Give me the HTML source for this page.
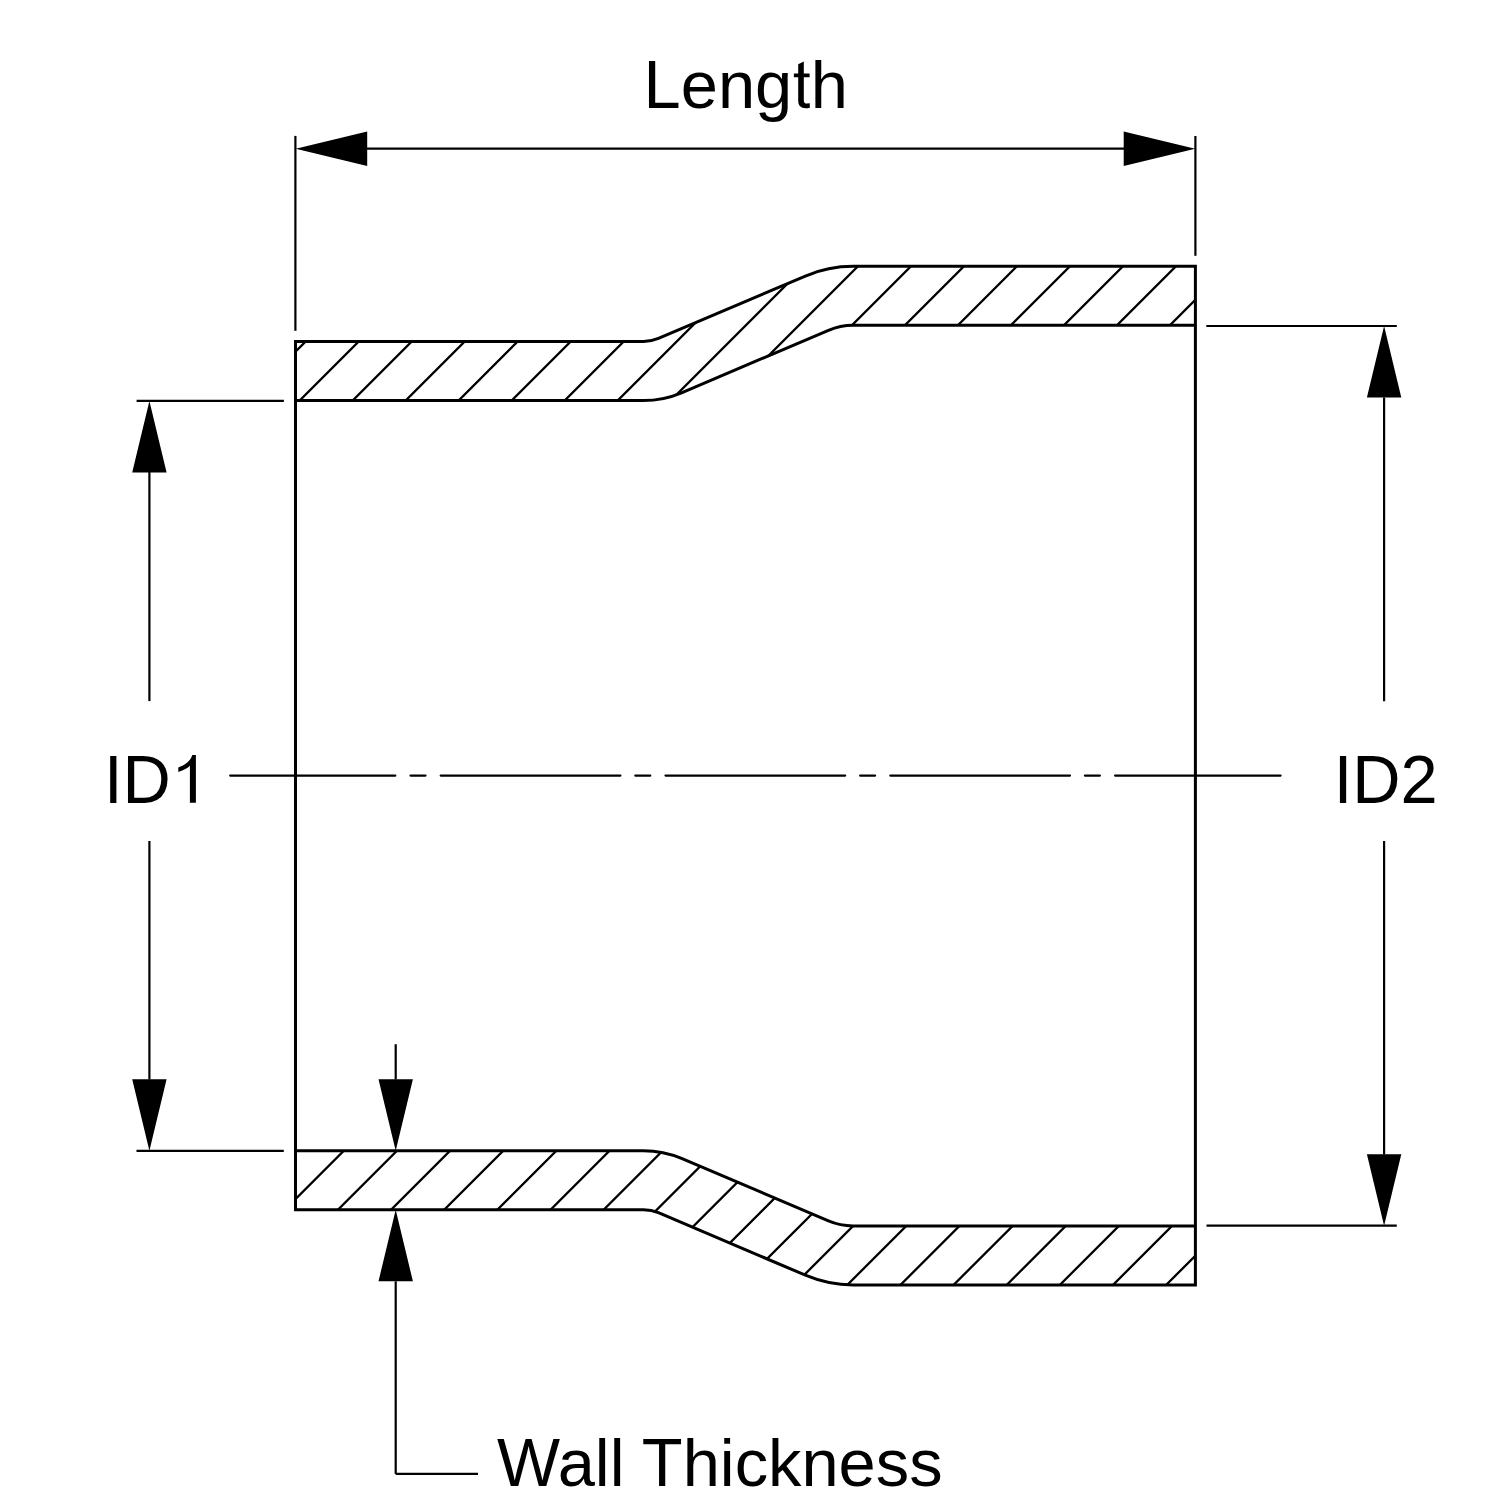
<!DOCTYPE html>
<html><head><meta charset="utf-8"><style>
html,body{margin:0;padding:0;background:#fff;width:1510px;height:1510px;overflow:hidden}
svg{display:block}
text{font-family:"Liberation Sans",sans-serif;fill:#000}
</style></head><body>
<svg width="1510" height="1510" viewBox="0 0 1510 1510">
<rect width="1510" height="1510" fill="#fff"/>
<defs>
<clipPath id="ct"><path d="M295.50,341.50 L643.56,341.50 A38.0,38.0 0 0 0 658.42,338.47 L805.37,276.02 A122.0,122.0 0 0 1 853.09,266.30 L1195.40,266.30 L1195.40,325.30 L853.09,325.30 A63.0,63.0 0 0 0 828.45,330.32 L681.50,392.77 A97.0,97.0 0 0 1 643.56,400.50 L295.50,400.50 Z"/></clipPath>
<clipPath id="cb"><path d="M295.50,1209.70 L643.56,1209.70 A38.0,38.0 0 0 1 658.42,1212.73 L805.37,1275.18 A122.0,122.0 0 0 0 853.09,1284.90 L1195.40,1284.90 L1195.40,1225.90 L853.09,1225.90 A63.0,63.0 0 0 1 828.45,1220.88 L681.50,1158.43 A97.0,97.0 0 0 0 643.56,1150.70 L295.50,1150.70 Z"/></clipPath>
</defs>
<g stroke="#000" stroke-width="2.3" fill="none">
<path clip-path="url(#ct)" d="M68.20,420.00 L238.20,250.00 M121.20,420.00 L291.20,250.00 M174.20,420.00 L344.20,250.00 M227.20,420.00 L397.20,250.00 M280.20,420.00 L450.20,250.00 M333.20,420.00 L503.20,250.00 M386.20,420.00 L556.20,250.00 M439.20,420.00 L609.20,250.00 M492.20,420.00 L662.20,250.00 M545.20,420.00 L715.20,250.00 M598.20,420.00 L768.20,250.00 M651.20,420.00 L821.20,250.00 M704.20,420.00 L874.20,250.00 M757.20,420.00 L927.20,250.00 M810.20,420.00 L980.20,250.00 M863.20,420.00 L1033.20,250.00 M916.20,420.00 L1086.20,250.00 M969.20,420.00 L1139.20,250.00 M1022.20,420.00 L1192.20,250.00 M1075.20,420.00 L1245.20,250.00 M1128.20,420.00 L1298.20,250.00 M1181.20,420.00 L1351.20,250.00 M1234.20,420.00 L1404.20,250.00 M1287.20,420.00 L1457.20,250.00"/>
<path clip-path="url(#cb)" d="M35.14,1300.00 L205.14,1130.00 M88.28,1300.00 L258.28,1130.00 M141.42,1300.00 L311.42,1130.00 M194.56,1300.00 L364.56,1130.00 M247.70,1300.00 L417.70,1130.00 M300.84,1300.00 L470.84,1130.00 M353.98,1300.00 L523.98,1130.00 M407.12,1300.00 L577.12,1130.00 M460.26,1300.00 L630.26,1130.00 M513.40,1300.00 L683.40,1130.00 M566.54,1300.00 L736.54,1130.00 M619.68,1300.00 L789.68,1130.00 M672.82,1300.00 L842.82,1130.00 M725.96,1300.00 L895.96,1130.00 M779.10,1300.00 L949.10,1130.00 M832.24,1300.00 L1002.24,1130.00 M885.38,1300.00 L1055.38,1130.00 M938.52,1300.00 L1108.52,1130.00 M991.66,1300.00 L1161.66,1130.00 M1044.80,1300.00 L1214.80,1130.00 M1097.94,1300.00 L1267.94,1130.00 M1151.08,1300.00 L1321.08,1130.00 M1204.22,1300.00 L1374.22,1130.00 M1257.36,1300.00 L1427.36,1130.00"/>
</g>
<g stroke="#000" stroke-width="3.0" fill="none" stroke-linejoin="miter">
<path d="M295.50,341.50 L643.56,341.50 A38.0,38.0 0 0 0 658.42,338.47 L805.37,276.02 A122.0,122.0 0 0 1 853.09,266.30 L1195.40,266.30 L1195.40,1284.90 L853.09,1284.90 A122.0,122.0 0 0 1 805.37,1275.18 L658.42,1212.73 A38.0,38.0 0 0 0 643.56,1209.70 L295.50,1209.70 Z"/>
<path d="M295.50,400.50 L643.56,400.50 A97.0,97.0 0 0 0 681.50,392.77 L828.45,330.32 A63.0,63.0 0 0 1 853.09,325.30 L1195.40,325.30"/>
<path d="M295.50,1150.70 L643.56,1150.70 A97.0,97.0 0 0 1 681.50,1158.43 L828.45,1220.88 A63.0,63.0 0 0 0 853.09,1225.90 L1195.40,1225.90"/>
</g>
<g stroke="#000" stroke-width="2.2" fill="none">
<line x1="367" y1="148.7" x2="1124" y2="148.7"/>
<line x1="295.4" y1="135.9" x2="295.4" y2="330.8"/>
<line x1="1195.4" y1="136" x2="1195.4" y2="255.8"/>
<line x1="136.6" y1="400.9" x2="283.9" y2="400.9"/>
<line x1="136.5" y1="1150.8" x2="283.8" y2="1150.8"/>
<line x1="149.4" y1="472" x2="149.4" y2="701.1"/>
<line x1="149.4" y1="841" x2="149.4" y2="1079.5"/>
<line x1="1206.3" y1="326.0" x2="1396.8" y2="326.0"/>
<line x1="1206.5" y1="1225.7" x2="1396.8" y2="1225.7"/>
<line x1="1384.1" y1="397.5" x2="1384.1" y2="701.2"/>
<line x1="1384.1" y1="841" x2="1384.1" y2="1154.5"/>
<line x1="395.7" y1="1044.2" x2="395.7" y2="1079.5"/>
<line x1="395.7" y1="1281.3" x2="395.7" y2="1473.9"/>
<line x1="395.7" y1="1473.9" x2="478.0" y2="1473.9"/>
</g>
<g stroke="#000" stroke-width="2.2" fill="none" stroke-linecap="round">
<line x1="230.20" y1="775.6" x2="395.30" y2="775.6"/>
<line x1="440.70" y1="775.6" x2="620.40" y2="775.6"/>
<line x1="665.50" y1="775.6" x2="845.20" y2="775.6"/>
<line x1="890.30" y1="775.6" x2="1070.00" y2="775.6"/>
<line x1="1115.10" y1="775.6" x2="1280.60" y2="775.6"/>
<line x1="410.50" y1="775.6" x2="425.50" y2="775.6"/>
<line x1="635.30" y1="775.6" x2="650.30" y2="775.6"/>
<line x1="860.10" y1="775.6" x2="875.10" y2="775.6"/>
<line x1="1084.90" y1="775.6" x2="1099.90" y2="775.6"/>
</g>
<path d="M295.70,148.70 L367.20,165.90 L367.20,131.50 Z M1195.20,148.70 L1123.70,131.50 L1123.70,165.90 Z M149.40,400.90 L132.20,472.40 L166.60,472.40 Z M149.40,1150.80 L166.60,1079.30 L132.20,1079.30 Z M1384.10,326.00 L1366.90,397.50 L1401.30,397.50 Z M1384.10,1225.70 L1401.30,1154.20 L1366.90,1154.20 Z M395.70,1150.70 L412.90,1079.20 L378.50,1079.20 Z M395.70,1209.80 L378.50,1281.30 L412.90,1281.30 Z" fill="#000"/>
<g font-size="66.8">
<text transform="translate(643.62,108) scale(1,1.036)">L</text>
<text x="680.77" y="108">eng</text>
<path d="M798.2,64.2 L803.8,61.4 L803.8,73.5 L809.6,73.5 L809.6,77.3 L803.8,77.3 L803.8,100.5 Q803.8,103.6 806.8,103.6 L809.8,103.3 L809.8,107.7 Q807.6,108.3 805.6,108.3 Q798.2,108.3 798.2,101 L798.2,77.3 L793.9,77.3 L793.9,73.5 L798.2,73.5 Z"/>
<text x="810.78" y="108">h</text>
<text transform="translate(103.94,803) scale(1,1.036)">ID</text>
<path d="M192.3,755.1 L195.9,755.1 L195.9,802.8 L189.9,802.8 L189.9,765.7 Q186.7,769.1 178.3,772.1 L178.3,767.4 Q189.5,763.8 192.3,755.1 Z"/>
<text transform="translate(1333.74,802.8) scale(1,1.036)">ID2</text>
<text transform="translate(497.11,1485.8) scale(1,1.036)">W</text>
<text x="557.68" y="1485.8">all </text>
<text transform="translate(641.86,1485.8) scale(1,1.036)">T</text>
<text x="682.67" y="1485.8">hickness</text>
</g>
</svg>
</body></html>
